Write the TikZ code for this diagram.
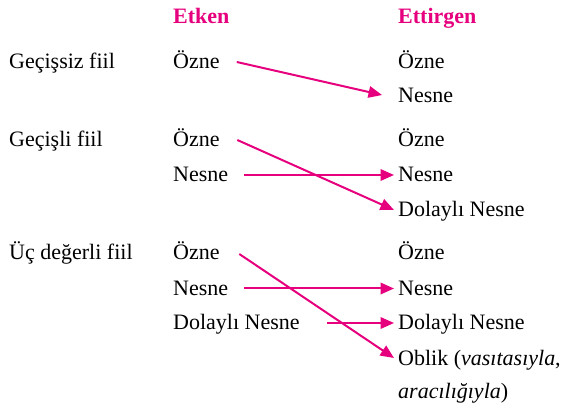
\documentclass[tikz,border=0pt]{standalone}
\usepackage{fontspec}
\setmainfont{Liberation Serif}
\usetikzlibrary{arrows.meta,calc}
\definecolor{mag}{RGB}{230,0,126}
\begin{document}
\begin{tikzpicture}[x=1pt,y=-1pt,
  txt/.style={anchor=base west,inner sep=0pt,font=\fontsize{22}{26}\selectfont},
  head/.style={txt,text=mag,font=\fontsize{22}{26}\selectfont\bfseries},
  arr/.style={draw=mag,line width=2pt,-{Triangle[length=13.5pt,width=11.5pt]}}]
\useasboundingbox (0,0) rectangle (563,409);
% headers
\node[head] (h1) at (173,24) {Etken};
\node[head] (h2) at (398,24) {Ettirgen};
% row 1
\node[txt] (l1) at (9,69) {Geçişsiz fiil};
\node[txt] (a1) at (173,69) {Özne};
\node[txt] (b1) at (398,69) {Özne};
\node[txt] (b2) at (398,103) {Nesne};
% row 2
\node[txt] (l2) at (9,147) {Geçişli fiil};
\node[txt] (c1) at (173,147) {Özne};
\node[txt] (c2) at (173,182) {Nesne};
\node[txt] (d1) at (398,147) {Özne};
\node[txt] (d2) at (398,182) {Nesne};
\node[txt] (d3) at (398,217) {Dolaylı Nesne};
% row 3
\node[txt] (l3) at (9,260) {Üç değerli fiil};
\node[txt] (e1) at (173,260) {Özne};
\node[txt] (e2) at (173,295) {Nesne};
\node[txt] (e3) at (173,330) {Dolaylı Nesne};
\node[txt] (f1) at (398,260) {Özne};
\node[txt] (f2) at (398,295) {Nesne};
\node[txt] (f3) at (398,330) {Dolaylı Nesne};
\node[txt] (f4) at (398,365) {Oblik (\textit{vasıtasıyla},};
\node[txt] (f5) at (398,398) {\textit{aracılığıyla})};
% arrows
\draw[arr] ($(a1.base east)+(17,-7)$) -- ($(b2.base west)+(-16,-8)$);
\draw[arr] ($(c1.base east)+(17.5,-7)$) -- ($(d3.base west)+(-4,-7)$);
\draw[arr] ($(c2.base east)+(16,-7)$) -- ($(d2.base west)+(-4,-7)$);
\draw[arr] ($(e1.base east)+(19.5,-6)$) -- ($(f4.base west)+(-4,-7)$);
\draw[arr] ($(e2.base east)+(16,-6.5)$) -- ($(f2.base west)+(-4,-6.5)$);
\draw[arr] ($(e3.base east)+(27.5,-7)$) -- ($(f3.base west)+(-4,-7)$);
\end{tikzpicture}
\end{document}
